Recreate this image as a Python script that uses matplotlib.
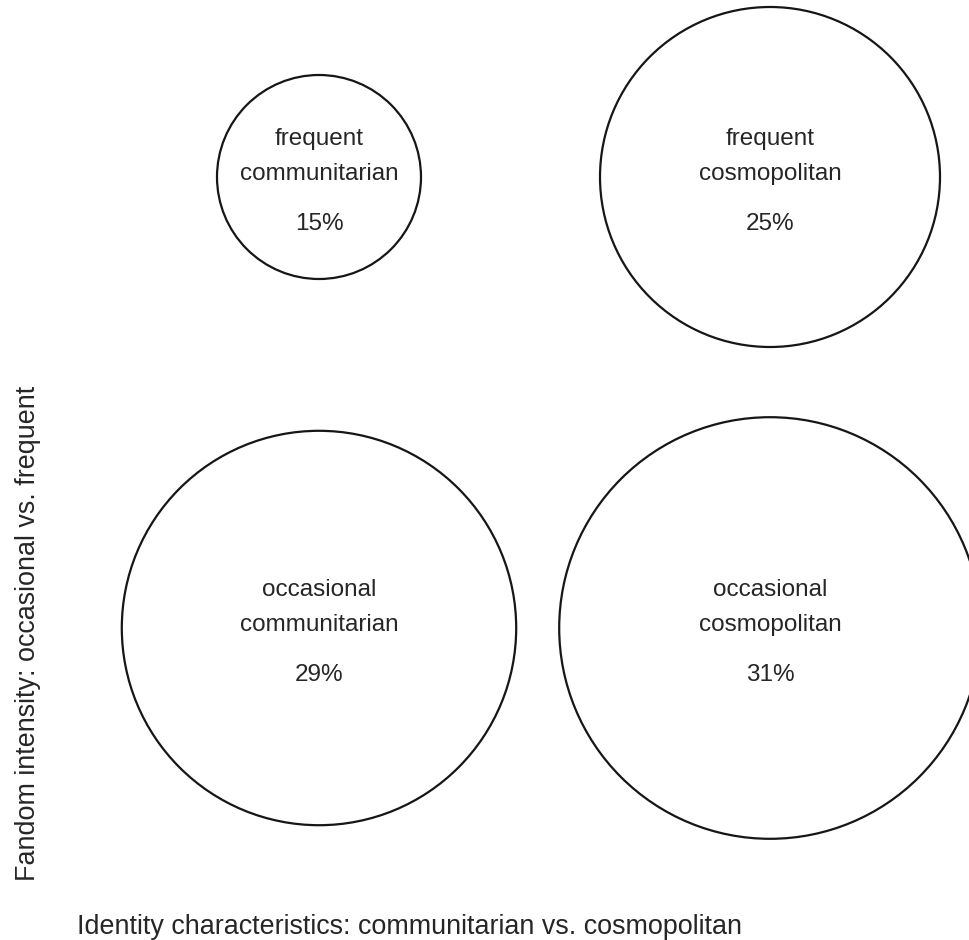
import matplotlib
matplotlib.use("Agg")
from matplotlib import pyplot as plt
from matplotlib.patches import Circle

# Dados
linhas     = ["frequent", "occasional"]
colunas    = ["communitarian", "cosmopolitan"]
percentual = [[15, 25],
              [29, 31]]

titulo_x = "Identity characteristics: communitarian vs. cosmopolitan"
titulo_y = "Fandom intensity: occasional vs. frequent"

# Layout (em pixels)
LARGURA = 970
ALTURA  = 940
COL_X   = [319, 770]
LIN_Y   = [177, 628]
ESCALA  = 6.8          # raio = ESCALA * percentual
COR_TXT = '#262626'

plt.rcParams['font.family'] = ['Liberation Sans', 'DejaVu Sans']

fig = plt.figure(figsize=(LARGURA / 100., ALTURA / 100.), dpi=100)
ax = fig.add_axes([0, 0, 1, 1])
ax.set_xlim(0, LARGURA)
ax.set_ylim(ALTURA, 0)
ax.set_aspect('equal')
ax.axis('off')

# Círculos
for i, linha in enumerate(linhas):
	for j, coluna in enumerate(colunas):
		cx = COL_X[j]
		cy = LIN_Y[i]
		p = percentual[i][j]
		ax.add_patch(Circle((cx, cy), ESCALA * p, facecolor='white',
							edgecolor='#161616', lw=1.6))
		ax.text(cx, cy - 38, linha, ha='center', va='center',
				fontsize=17.5, color=COR_TXT)
		ax.text(cx, cy - 3, coluna, ha='center', va='center',
				fontsize=17.5, color=COR_TXT)
		ax.text(cx, cy + 47, "%d%%" % p, ha='center', va='center',
				fontsize=17.5, color=COR_TXT)

# Títulos dos eixos
ax.text(77, 927, titulo_x, ha='left', va='center', fontsize=19.4, color=COR_TXT)
ax.text(28, 633, titulo_y, ha='center', va='center', rotation=90,
		fontsize=19.4, color=COR_TXT)

fig.savefig('out.png', dpi=100, facecolor='white')
